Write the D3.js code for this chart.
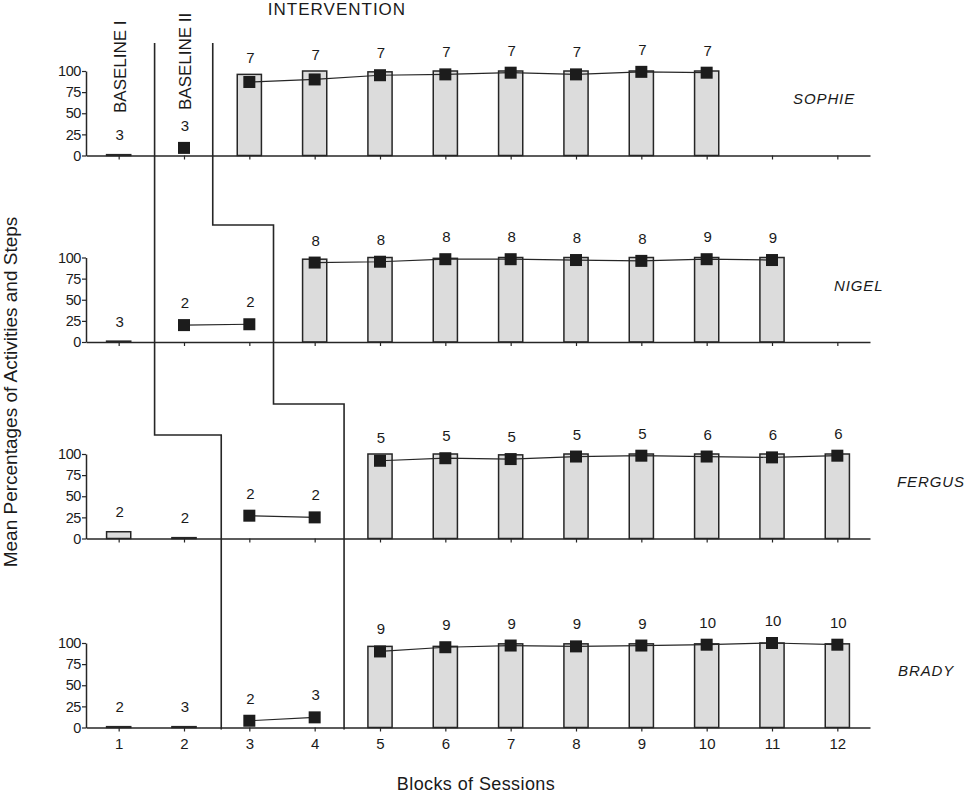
<!DOCTYPE html>
<html>
<head>
<meta charset="utf-8">
<script src="https://cdn.jsdelivr.net/npm/d3@7"></script>
<style>
  html, body { margin: 0; padding: 0; background: #fff; }
  svg { display: block; }
  text { font-family: "Liberation Sans", Arial, Helvetica, sans-serif; fill: #1a1a1a; }
</style>
</head>
<body>
<svg id="chart" width="965" height="795"></svg>
<script>
// ---------------- DATA ----------------
const blocks = [1, 2, 3, 4, 5, 6, 7, 8, 9, 10, 11, 12];
const participants = ["SOPHIE", "NIGEL", "FERGUS", "BRADY"];
const yTicks = [0, 25, 50, 75, 100];

// Mean percentage of activities (bars)
const sophieBars = [1, null, 96, 100, 99, 100, 100, 100, 100, 100, null, null];
const nigelBars  = [1, null, null, 98, 100, 99, 100, 100, 100, 100, 100, null];
const fergusBars = [8, 1, null, null, 100, 100, 99, 100, 100, 100, 100, 100];
const bradyBars  = [1, 1, null, null, 96, 96, 99, 99, 99, 99, 100, 99];

// Mean percentage of steps (squares)
const sophieSteps = [null, 9, 87, 90, 95, 96, 98, 96, 99, 98, null, null];
const nigelSteps  = [null, 20, 21, 94, 95, 98, 98, 97, 96, 98, 97, null];
const fergusSteps = [null, null, 27, 25, 92, 95, 94, 97, 98, 97, 96, 98];
const bradySteps  = [null, null, 8, 12, 90, 95, 97, 96, 97, 98, 100, 98];

// Number of sessions per block (labels above)
const sophieN = [3, 3, 7, 7, 7, 7, 7, 7, 7, 7, null, null];
const nigelN  = [3, 2, 2, 8, 8, 8, 8, 8, 8, 9, 9, null];
const fergusN = [2, 2, 2, 2, 5, 5, 5, 5, 5, 6, 6, 6];
const bradyN  = [2, 3, 2, 3, 9, 9, 9, 9, 9, 10, 10, 10];

// Last block of each phase per participant
const baselineIEnd  = [1, 1, 2, 2];
const baselineIIEnd = [2, 3, 4, 4];

// Phase-change line positions (in block units)
const phaseLineA = [1.55, 1.55, 2.57, 2.57];
const phaseLineB = [2.44, 3.37, 4.45, 4.45];

const phaseLabels = ["BASELINE I", "BASELINE II", "INTERVENTION"];
const yTitle = "Mean Percentages of Activities and Steps";
const xTitle = "Blocks of Sessions";

// ---------------- LAYOUT ----------------
const panelZero = [155.5, 342, 538.5, 727.5];
const panelH = 84.5;
const nameX = [793, 834, 897, 898];
const lineTop = 43;
const stepYA = [435];            // where line A steps (between Nigel & Fergus)
const stepYB = [225, 404];       // where line B steps

const allBars = [sophieBars, nigelBars, fergusBars, bradyBars];
const allSteps = [sophieSteps, nigelSteps, fergusSteps, bradySteps];
const allN = [sophieN, nigelN, fergusN, bradyN];

const svg = d3.select("#chart");
const x = d3.scaleLinear().domain([0.5, 12.5]).range([86, 870]);
const step = x(2) - x(1);
const barW = step * 0.37;

const DARK = "#262626";

participants.forEach((name, p) => {
  const y = d3.scaleLinear().domain([0, 100]).range([panelZero[p], panelZero[p] - panelH]);
  const g = svg.append("g");

  const rows = blocks.map((b, i) => ({
    block: b,
    bar: allBars[p][i],
    stepV: allSteps[p][i],
    n: allN[p][i],
    phase: b <= baselineIEnd[p] ? 0 : (b <= baselineIIEnd[p] ? 1 : 2)
  }));

  // bars
  g.selectAll("rect.bar")
    .data(rows.filter(d => d.bar != null))
    .join("rect")
    .attr("class", "bar")
    .attr("x", d => x(d.block) - barW / 2)
    .attr("width", barW)
    .attr("y", d => y(d.bar))
    .attr("height", d => y(0) - y(d.bar))
    .attr("fill", "#dcdcdc")
    .attr("stroke", DARK)
    .attr("stroke-width", 1.5);

  // axes
  const xAxis = d3.axisBottom(x).tickValues(blocks).tickSize(4).tickSizeOuter(0).tickPadding(7)
    .tickFormat(p === 3 ? d3.format("d") : () => "");
  const xa = g.append("g").attr("transform", `translate(0,${panelZero[p]})`).call(xAxis);
  xa.select(".domain").attr("stroke", DARK).attr("stroke-width", 1.5);
  xa.selectAll(".tick line").attr("stroke", DARK).attr("stroke-width", 1.2);
  xa.selectAll(".tick text").attr("font-size", 15).attr("fill", "#1a1a1a")
    .attr("font-family", "Liberation Sans, Arial, sans-serif");

  const yAxis = d3.axisLeft(y).tickValues(yTicks).tickSize(4).tickSizeOuter(0).tickPadding(1);
  const ya = g.append("g").attr("transform", `translate(${x(0.5)},0)`).call(yAxis);
  ya.select(".domain").attr("stroke", DARK).attr("stroke-width", 1.5);
  ya.selectAll(".tick line").attr("stroke", DARK).attr("stroke-width", 1.2);
  ya.selectAll(".tick text").attr("font-size", 14.5).attr("fill", "#1a1a1a")
    .attr("letter-spacing", -0.4)
    .attr("font-family", "Liberation Sans, Arial, sans-serif");

  // lines connecting steps within each phase
  const line = d3.line().x(d => x(d.block)).y(d => y(d.stepV));
  [0, 1, 2].forEach(ph => {
    const seg = rows.filter(d => d.phase === ph && d.stepV != null);
    if (seg.length > 1) {
      g.append("path").datum(seg).attr("d", line)
        .attr("fill", "none").attr("stroke", DARK).attr("stroke-width", 1.2);
    }
  });

  // step markers
  const ms = 12;
  g.selectAll("rect.mk")
    .data(rows.filter(d => d.stepV != null))
    .join("rect")
    .attr("class", "mk")
    .attr("x", d => x(d.block) - ms / 2)
    .attr("y", d => y(d.stepV) - ms / 2)
    .attr("width", ms).attr("height", ms)
    .attr("fill", "#1c1c1c");

  // session count labels
  g.selectAll("text.n")
    .data(rows.filter(d => d.n != null))
    .join("text")
    .attr("class", "n")
    .attr("x", d => x(d.block) + 1)
    .attr("y", d => {
      const tops = [];
      if (d.bar != null) tops.push(y(d.bar));
      if (d.stepV != null) tops.push(y(d.stepV) - ms / 2);
      const t = Math.min(...tops);
      const off = (d.bar != null && d.bar < 10 && d.stepV == null) ? 14.5 : 11;
      return t - off;
    })
    .attr("text-anchor", "middle")
    .attr("font-size", 15)
    .text(d => d.n);

  // participant name
  g.append("text")
    .attr("x", nameX[p])
    .attr("y", panelZero[p] - 51.5)
    .attr("font-size", 15)
    .attr("font-style", "italic")
    .attr("letter-spacing", 0.9)
    .text(name);
});

// phase change lines
function phasePath(pos, steps) {
  const pts = [];
  const xs = pos.map(v => x(v));
  let cur = xs[0];
  pts.push([cur, lineTop]);
  let si = 0;
  for (let i = 1; i < xs.length; i++) {
    if (Math.abs(xs[i] - cur) > 0.5) {
      pts.push([cur, steps[si]]);
      pts.push([xs[i], steps[si]]);
      cur = xs[i];
      si++;
    }
  }
  pts.push([cur, panelZero[3] + 2]);
  return d3.line()(pts);
}
svg.append("path").attr("d", phasePath(phaseLineA, stepYA))
  .attr("fill", "none").attr("stroke", DARK).attr("stroke-width", 1.6);
svg.append("path").attr("d", phasePath(phaseLineB, stepYB))
  .attr("fill", "none").attr("stroke", DARK).attr("stroke-width", 1.6);

// phase labels
svg.append("text")
  .attr("transform", `translate(126,113) rotate(-90)`)
  .attr("font-size", 17)
  .text(phaseLabels[0]);
svg.append("text")
  .attr("transform", `translate(191,110) rotate(-90)`)
  .attr("font-size", 17)
  .text(phaseLabels[1]);
svg.append("text")
  .attr("x", 337).attr("y", 15)
  .attr("text-anchor", "middle")
  .attr("font-size", 17)
  .attr("letter-spacing", 1)
  .text(phaseLabels[2]);

// axis titles
svg.append("text")
  .attr("transform", `translate(17,392) rotate(-90)`)
  .attr("text-anchor", "middle")
  .attr("font-size", 19)
  .text(yTitle);
svg.append("text")
  .attr("x", 476).attr("y", 790)
  .attr("text-anchor", "middle")
  .attr("font-size", 18)
  .attr("letter-spacing", 0.4)
  .text(xTitle);
</script>
</body>
</html>
